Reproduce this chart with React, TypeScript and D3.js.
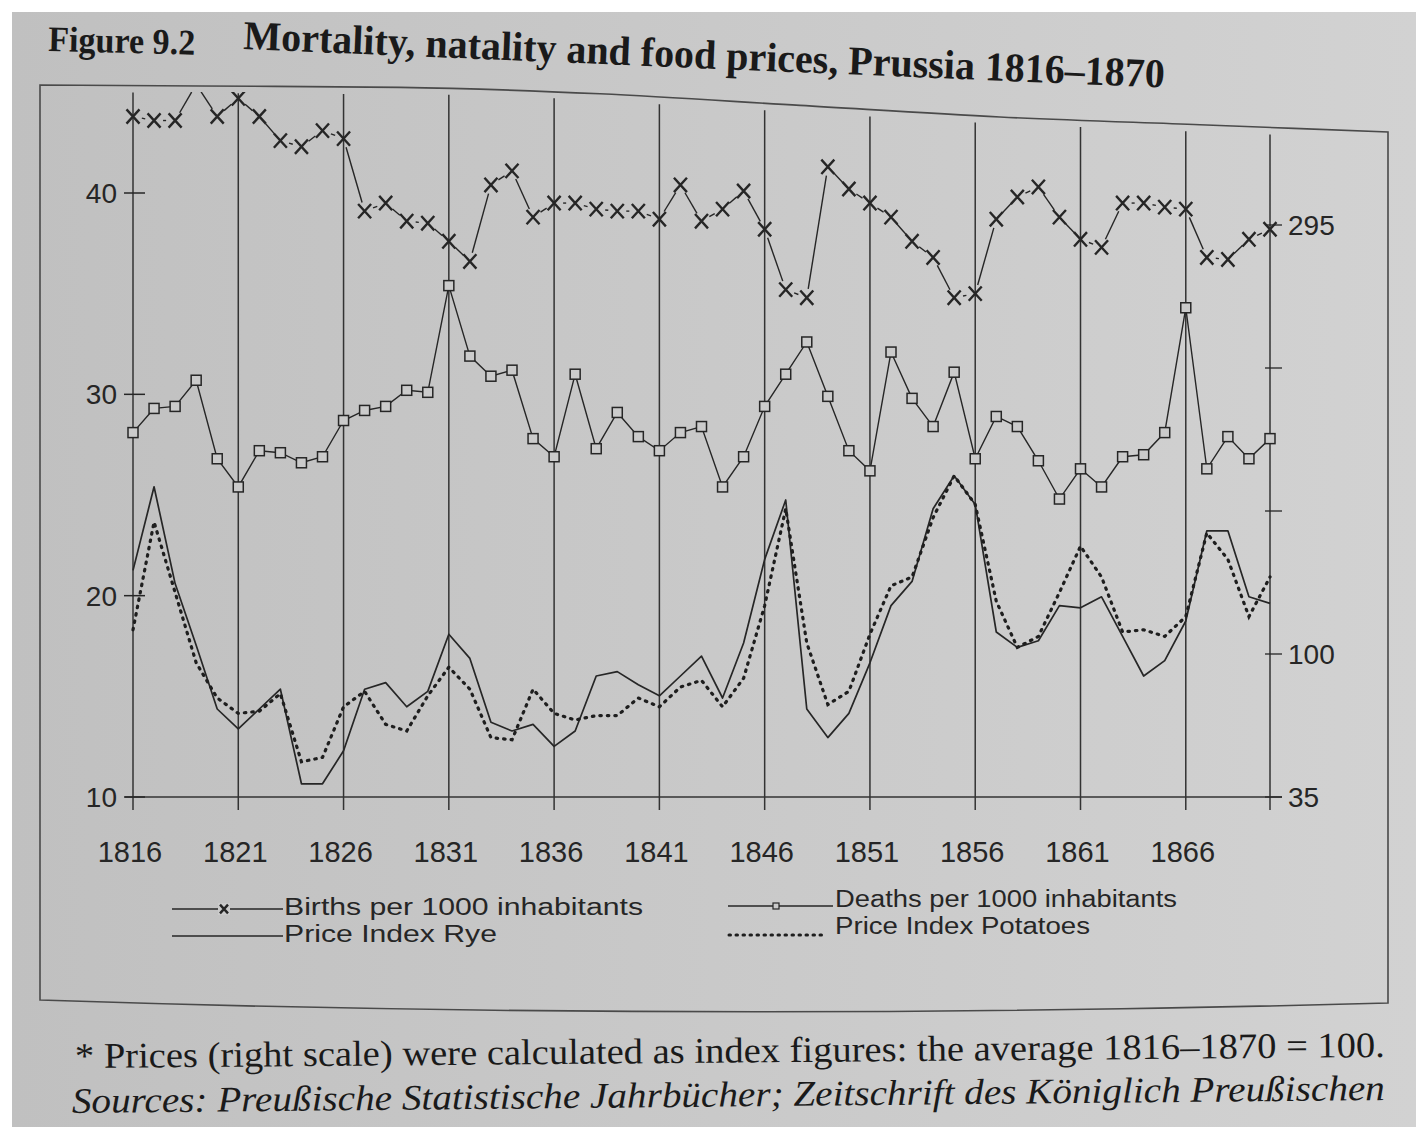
import React from "react";
import * as d3 from "d3";

// years 1816..1870, one value per year
const years = d3.range(1816, 1871);

// births per 1000 inhabitants (left scale)
const births = [
  43.8, 43.6, 43.6, 45.4, 43.8, 44.7, 43.8, 42.6, 42.3, 43.1,
  42.7, 39.1, 39.5, 38.6, 38.5, 37.6, 36.6, 40.4, 41.1, 38.8,
  39.5, 39.5, 39.2, 39.1, 39.1, 38.7, 40.4, 38.6, 39.2, 40.1,
  38.2, 35.2, 34.8, 41.3, 40.2, 39.5, 38.8, 37.6, 36.8, 34.8,
  35.0, 38.7, 39.8, 40.3, 38.8, 37.7, 37.3, 39.5, 39.5, 39.3,
  39.2, 36.8, 36.7, 37.7, 38.2,
];

// deaths per 1000 inhabitants (left scale)
const deaths = [
  28.1, 29.3, 29.4, 30.7, 26.8, 25.4, 27.2, 27.1, 26.6, 26.9,
  28.7, 29.2, 29.4, 30.2, 30.1, 35.4, 31.9, 30.9, 31.2, 27.8,
  26.9, 31.0, 27.3, 29.1, 27.9, 27.2, 28.1, 28.4, 25.4, 26.9,
  29.4, 31.0, 32.6, 29.9, 27.2, 26.2, 32.1, 29.8, 28.4, 31.1,
  26.8, 28.9, 28.4, 26.7, 24.8, 26.3, 25.4, 26.9, 27.0, 28.1,
  34.3, 26.3, 27.9, 26.8, 27.8,
];

// price indices (right scale, average = 100)
const ryePrice = [
  138, 176, 132, 104, 75, 66, 75, 84, 41, 41,
  56, 84, 87, 76, 83, 109, 98, 69, 65, 68,
  58, 65, 90, 92, 86, 81, 90, 99, 80, 105,
  143, 170, 75, 62, 73, 96, 122, 133, 166, 181,
  168, 110, 103, 106, 122, 121, 126, 108, 90, 97,
  115, 156, 156, 126, 123,
];
const potatoPrice = [
  111, 160, 128, 96, 80, 73, 74, 82, 51, 53,
  76, 83, 68, 65, 81, 94, 84, 62, 61, 84,
  73, 70, 72, 72, 80, 76, 85, 88, 76, 89,
  122, 166, 105, 77, 83, 109, 131, 135, 162, 181,
  168, 124, 103, 108, 128, 149, 135, 110, 111, 108,
  117, 155, 143, 117, 135,
];

const yearTicks = [1816, 1821, 1826, 1831, 1836, 1841, 1846, 1851, 1856, 1861, 1866];
const gridYears = [...yearTicks, 1870];
const leftTicks = [10, 20, 30, 40];
const rightTicks = [35, 100, 165, 230, 295];
const rightLabels = [35, 100, 295];

const W = 1416;
const H = 1127;
const INK = "#262626";
const PAPER = "#cbcbcb";
const SANS = "'Liberation Sans', Arial, sans-serif";
const SERIF = "'Liberation Serif', 'Times New Roman', serif";

const x = d3.scaleLinear().domain([1816, 1870]).range([133, 1270]);
const yL = d3.scaleLinear().domain([10, 40]).range([797, 193]);
const yR = d3.scaleLinear().domain([35, 295]).range([797, 225]);

// the frame's top edge is bent on the photographed page
const frameTop = d3.scaleLinear().domain([40, 500, 1000, 1388]).range([85, 88, 117, 132]);

const priceLine = d3
  .line<number>()
  .x((_, i) => x(years[i]))
  .y((d) => yR(d));
const rateLine = d3
  .line<number>()
  .x((_, i) => x(years[i]))
  .y((d) => yL(d));

const XMark = ({ cx, cy, s = 6.5 }: { cx: number; cy: number; s?: number }) => (
  <path
    d={`M${cx - s},${cy - s * 1.1}L${cx + s},${cy + s * 1.1}M${cx - s},${cy + s * 1.1}L${cx + s},${cy - s * 1.1}`}
    stroke={INK}
    strokeWidth={2.4}
    fill="none"
  />
);

const App = () => {
  const birthPts = births.map((d, i) => [x(years[i]), yL(d)]);
  // the births line is broken around each marker in the print
  const gap = 9;
  const birthSegs = birthPts.slice(1).map((p1, i) => {
    const p0 = birthPts[i];
    const dx = p1[0] - p0[0];
    const dy = p1[1] - p0[1];
    const len = Math.hypot(dx, dy);
    if (len <= gap * 2) return null;
    const ux = dx / len;
    const uy = dy / len;
    return [p0[0] + ux * gap, p0[1] + uy * gap, p1[0] - ux * gap, p1[1] - uy * gap];
  });

  const topPts = [40, 200, 400, 600, 800, 1000, 1200, 1388].map((px) => [px, frameTop(px)]);
  const topPath = d3.line().curve(d3.curveMonotoneX)(topPts as [number, number][]);
  const framePath = `${topPath}L1388,1003Q700,1022 40,1000Z`;

  return (
    <svg
      width={W}
      height={H}
      viewBox={`0 0 ${W} ${H}`}
      style={{ position: "absolute", left: 0, top: 0, display: "block" }}
    >
      <defs>
        <linearGradient id="paper" x1="0" x2="1" y1="0" y2="0">
          <stop offset="0" stopColor="#c0c0c0" />
          <stop offset="0.5" stopColor="#c9c9c9" />
          <stop offset="1" stopColor="#d2d2d2" />
        </linearGradient>
        <clipPath id="plot">
          <rect x={110} y={92} width={1200} height={720} />
        </clipPath>
      </defs>

      <rect width={W} height={H} fill="#ffffff" />
      <rect x={12} y={12} width={W - 12} height={H - 12} fill="url(#paper)" />

      {/* title */}
      <text
        x={48}
        y={51}
        transform="rotate(1.4 48 51)"
        fontFamily={SERIF}
        fontWeight="bold"
        fontSize={36}
        fill="#1a1a1a"
        textLength={147}
        lengthAdjust="spacingAndGlyphs"
      >
        Figure 9.2
      </text>
      <text
        x={243}
        y={49}
        transform="rotate(2.4 243 49)"
        fontFamily={SERIF}
        fontWeight="bold"
        fontSize={41}
        fill="#1a1a1a"
        textLength={922}
        lengthAdjust="spacingAndGlyphs"
      >
        Mortality, natality and food prices, Prussia 1816–1870
      </text>

      {/* frame */}
      <path d={framePath} fill="none" stroke="#4a4a4a" strokeWidth={1.6} />

      {/* five-year grid lines, also the two axes */}
      {gridYears.map((yr) => (
        <line
          key={yr}
          x1={x(yr)}
          x2={x(yr)}
          y1={810}
          y2={frameTop(x(yr)) + 7}
          stroke="#333"
          strokeWidth={1.5}
        />
      ))}
      <line x1={125} x2={1282} y1={797} y2={797} stroke="#333" strokeWidth={1.6} />

      {leftTicks.map((t) => (
        <g key={t}>
          <line x1={124} x2={145} y1={yL(t)} y2={yL(t)} stroke={INK} strokeWidth={1.5} />
          <text x={117} y={yL(t) + 10} textAnchor="end" fontFamily={SANS} fontSize={28} fill={INK}>
            {t}
          </text>
        </g>
      ))}
      {rightTicks.map((t) => (
        <line key={t} x1={x(1870) - 5} x2={x(1870) + 12} y1={yR(t)} y2={yR(t)} stroke={INK} strokeWidth={1.3} />
      ))}
      {rightLabels.map((t) => (
        <text key={t} x={1288} y={yR(t) + 10} fontFamily={SANS} fontSize={28} fill={INK}>
          {t}
        </text>
      ))}
      {yearTicks.map((yr) => (
        <text key={yr} x={x(yr) - 3} y={862} textAnchor="middle" fontFamily={SANS} fontSize={29} fill={INK}>
          {yr}
        </text>
      ))}

      <g clipPath="url(#plot)">
        {/* prices */}
        <path d={priceLine(ryePrice) ?? ""} fill="none" stroke={INK} strokeWidth={1.7} strokeLinejoin="round" />
        <path
          d={priceLine(potatoPrice) ?? ""}
          fill="none"
          stroke="#1e1e1e"
          strokeWidth={3.2}
          strokeDasharray="1.5 6"
          strokeLinecap="round"
        />

        {/* deaths */}
        <path d={rateLine(deaths) ?? ""} fill="none" stroke={INK} strokeWidth={1.4} />
        {deaths.map((d, i) => (
          <rect
            key={i}
            x={x(years[i]) - 5}
            y={yL(d) - 5}
            width={10}
            height={10}
            fill={PAPER}
            stroke={INK}
            strokeWidth={1.5}
          />
        ))}

        {/* births */}
        {birthSegs.map((s, i) =>
          s ? <line key={i} x1={s[0]} y1={s[1]} x2={s[2]} y2={s[3]} stroke={INK} strokeWidth={1.4} /> : null
        )}
        {birthPts.map((p, i) => (
          <XMark key={i} cx={p[0]} cy={p[1]} />
        ))}
      </g>

      {/* legend */}
      <g fontFamily={SANS} fontSize={23} fill={INK}>
        <line x1={172} x2={283} y1={909} y2={909} stroke={INK} strokeWidth={1.4} />
        <rect x={218} y={903} width={12} height={12} fill={PAPER} />
        <XMark cx={224} cy={909} s={4} />
        <text x={284} y={915} textLength={359} lengthAdjust="spacingAndGlyphs">
          Births per 1000 inhabitants
        </text>
        <line x1={172} x2={283} y1={936} y2={936} stroke={INK} strokeWidth={1.4} />
        <text x={284} y={942} textLength={213} lengthAdjust="spacingAndGlyphs">
          Price Index Rye
        </text>

        <line x1={728} x2={833} y1={906} y2={906} stroke={INK} strokeWidth={1.4} />
        <rect x={773} y={903} width={6} height={6} fill={PAPER} stroke={INK} strokeWidth={1.2} />
        <text x={835} y={907} textLength={342} lengthAdjust="spacingAndGlyphs">
          Deaths per 1000 inhabitants
        </text>
        <line
          x1={729}
          x2={822}
          y1={935}
          y2={935}
          stroke="#1e1e1e"
          strokeWidth={3}
          strokeDasharray="1.5 5.5"
          strokeLinecap="round"
        />
        <text x={835} y={934} textLength={255} lengthAdjust="spacingAndGlyphs">
          Price Index Potatoes
        </text>
      </g>

      {/* note below the figure */}
      <text
        x={75}
        y={1068}
        transform="rotate(-0.48 75 1068)"
        fontFamily={SERIF}
        fontSize={36}
        fill="#1a1a1a"
        textLength={1310}
        lengthAdjust="spacingAndGlyphs"
      >
        * Prices (right scale) were calculated as index figures: the average 1816–1870 = 100.
      </text>
      <text
        x={72}
        y={1113}
        transform="rotate(-0.57 72 1113)"
        fontFamily={SERIF}
        fontStyle="italic"
        fontSize={36}
        fill="#1a1a1a"
        textLength={1313}
        lengthAdjust="spacingAndGlyphs"
      >
        Sources: Preußische Statistische Jahrbücher; Zeitschrift des Königlich Preußischen
      </text>
    </svg>
  );
};

export default App;
